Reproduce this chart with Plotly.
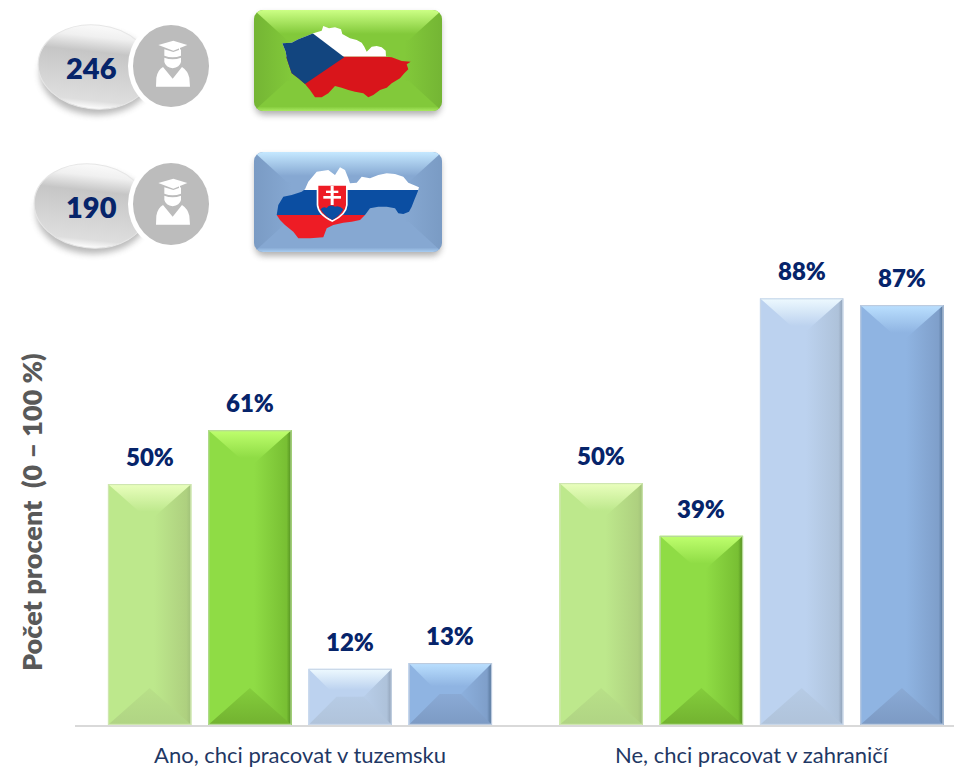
import base64
import plotly.graph_objects as go

# ---------- data ----------
categories = ["Ano, chci pracovat v tuzemsku", "Ne, chci pracovat v zahraničí"]
series_names = ["ČR 1", "ČR 2", "SR 1", "SR 2"]
czech_light = [49.7, 49.9]
czech_dark = [60.8, 39.0]
slovak_light = [11.6, 88.0]
slovak_dark = [12.8, 86.6]
sample_counts = ["246", "190"]
axis_title = "Počet procent  (0 – 100 %)"

# ---------- layout constants ----------
W, H = 954, 768
PLOT_L, PLOT_R, PLOT_B, PLOT_T = 75, 954, 725, 240
X_LEFT, X_RIGHT = -0.4983, 1.4485
BARGAP, GROUPGAP = 0.112, 0.167
NAVY = "#06246a"
FONT = "Lato"

PALETTE = [
    dict(base="#bde88c", right="#aed07f", edge="#9fc078", top0="#eaffbe", top1="#bde88c", bot0="#b8e088", bot1="#b0d484", line="#cfe6b0"),
    dict(base="#8fdc45", right="#78bf33", edge="#4f8a1e", top0="#bfff6e", top1="#8fdc45", bot0="#84cd3c", bot1="#72b230", line="#b7d99a"),
    dict(base="#bcd2ef", right="#aec2da", edge="#8c9db3", top0="#eefaff", top1="#bcd2ef", bot0="#b6cbe5", bot1="#b0c3da", line="#c9d7e8"),
    dict(base="#8fb4e2", right="#7f9fca", edge="#4f6e92", top0="#bbe0ff", top1="#8fb4e2", bot0="#8aaad5", bot1="#7c9ac4", line="#bccbdf"),
]
series = [czech_light, czech_dark, slovak_light, slovak_dark]


def uri(svg):
    return "data:image/svg+xml;base64," + base64.b64encode(svg.encode()).decode()


def bevel_svg(w, h, c):
    d = min(37.0, h / 2)
    i = w / 2 if d >= 37.0 else d
    return f'''<svg xmlns="http://www.w3.org/2000/svg" width="{w}" height="{h}" viewBox="0 0 {w} {h}" preserveAspectRatio="none">
<defs>
<linearGradient id="s" x1="0" x2="1" y1="0" y2="0">
<stop offset="0" stop-color="{c['base']}"/><stop offset=".55" stop-color="{c['base']}"/>
<stop offset=".94" stop-color="{c['right']}"/><stop offset="1" stop-color="{c['edge']}"/></linearGradient>
<linearGradient id="t" x1="0" x2="0" y1="0" y2="1">
<stop offset="0" stop-color="{c['top0']}"/><stop offset=".75" stop-color="{c['top1']}"/></linearGradient>
<linearGradient id="b" x1="0" x2="0" y1="0" y2="1">
<stop offset="0" stop-color="{c['bot0']}"/><stop offset="1" stop-color="{c['bot1']}"/></linearGradient>
</defs>
<rect width="{w}" height="{h}" fill="url(#s)"/>
<polygon points="0,0 {w},0 {w-i},{d} {i},{d}" fill="url(#t)"/>
<polygon points="0,{h} {w},{h} {w-i},{h-d} {i},{h-d}" fill="url(#b)"/>
<rect x=".6" y=".6" width="{w-1.2}" height="{h-1.2}" fill="none" stroke="{c['line']}" stroke-width="1.2"/>
</svg>'''


def poly(points, ox, oy):
    return " ".join(f"{ox + x / 3:.1f},{oy + y / 3:.1f}" for x, y in points)


CZ_OUTLINE = [(205,48),(222,55),(240,52),(258,58),(262,72),(285,85),(305,90),(320,98),(328,110),(335,125),(350,110),(365,108),(380,112),(392,122),(393,140),(410,142),(440,153),(467,155),(455,163),(460,178),(448,190),(435,205),(410,220),(395,233),(375,240),(355,255),(340,262),(325,250),(300,245),(280,240),(260,233),(240,228),(220,250),(200,262),(180,262),(165,240),(150,222),(130,205),(110,190),(100,160),(95,145),(92,125),(82,100),(110,98),(130,88),(155,78),(175,70),(200,62)]
SK_OUTLINE = [(65,195),(70,165),(85,140),(110,135),(140,125),(150,118),(160,95),(185,65),(220,60),(240,75),(255,52),(270,60),(280,85),(285,100),(305,98),(320,80),(345,85),(370,75),(395,70),(420,72),(445,80),(460,98),(492,112),(488,125),(478,150),(470,170),(462,185),(445,192),(430,190),(420,175),(395,170),(370,170),(345,175),(330,195),(315,210),(290,215),(265,218),(235,225),(215,235),(205,262),(165,265),(130,265),(115,245),(90,225),(75,210)]


def button(x, y, w, h, base, side, top, bot, gid):
    return f'''
<linearGradient id="{gid}t" x1="0" x2="0" y1="0" y2="1"><stop offset="0" stop-color="{top}"/><stop offset=".8" stop-color="{base}"/></linearGradient>
<linearGradient id="{gid}b" x1="0" x2="0" y1="0" y2="1"><stop offset="0" stop-color="{base}"/><stop offset=".85" stop-color="{base}"/><stop offset="1" stop-color="{bot}"/></linearGradient>
<linearGradient id="{gid}s" x1="0" x2="1" y1="0" y2="0"><stop offset="0" stop-color="{side}"/><stop offset=".2" stop-color="{base}"/><stop offset=".8" stop-color="{base}"/><stop offset="1" stop-color="{side}"/></linearGradient>
<clipPath id="{gid}c"><rect x="{x}" y="{y}" width="{w}" height="{h}" rx="9"/></clipPath>
<rect x="{x+1}" y="{y+4}" width="{w-2}" height="{h}" rx="9" fill="#555" opacity=".45" filter="url(#blur)"/>
<g clip-path="url(#{gid}c)">
<rect x="{x}" y="{y}" width="{w}" height="{h}" fill="url(#{gid}s)"/>
<polygon points="{x},{y} {x+w},{y} {x+w-33},{y+30} {x+33},{y+30}" fill="url(#{gid}t)"/>
<polygon points="{x},{y+h} {x+w},{y+h} {x+w-33},{y+h-30} {x+33},{y+h-30}" fill="url(#{gid}b)"/>
</g>'''


def person(cx, cy):
    return f'''<g transform="translate({cx},{cy}) scale(.3333)" fill="#fff">
<polygon points="-38,-63 7,-76 49,-63 7,-46"/>
<path d="M-20,-50 L7,-42 L30,-50 L30,-31 Q5,-22 -20,-31 Z"/>
<path d="M-20,-25 Q5,-16 30,-25 L30,-12 Q26,4 5,7 Q-16,4 -20,-12 Z"/>
<rect x="24" y="-58" width="3" height="24"/>
<path d="M-45,62 L-44,35 Q-40,12 -24,3 L5,38 L33,3 Q50,14 55,35 L57,62 Z"/>
</g>'''


def pill(cx, cy, rx, ry, ccy, gid):
    return f'''
<ellipse cx="{cx+2}" cy="{cy+6}" rx="{rx}" ry="{ry}" fill="#666" opacity=".45" filter="url(#blur)"/>
<ellipse cx="{cx}" cy="{cy}" rx="{rx}" ry="{ry}" fill="url(#pill)" stroke="#e6e6e6" stroke-width="1" transform="rotate(6 {cx} {cy})"/>
<ellipse cx="171" cy="{ccy}" rx="43" ry="46" fill="#fff"/>
<ellipse cx="171" cy="{ccy}" rx="38" ry="41" fill="#bcbcbc"/>
{person(171, ccy)}'''


def shield(ox, oy):
    return f'''<g transform="translate({ox},{oy}) scale(.3333)">
<path d="M185,103 L278,103 L278,165 Q276,195 232,216 Q187,195 185,165 Z" fill="#fff"/>
<path d="M190,107 L273,107 L273,165 Q271,192 232,210 Q192,192 190,165 Z" fill="#ee1c25"/>
<path d="M197,178 Q205,168 215,174 Q224,162 240,170 Q252,165 265,178 Q255,198 232,210 Q208,198 197,178 Z" fill="#0b4ea2"/>
<g fill="#fff"><rect x="227" y="108" width="9" height="57"/><rect x="213" y="122" width="37" height="7"/><rect x="205" y="138" width="53" height="8"/></g>
</g>'''


cz = (255, 10)
sk = (255, 150)
page = f'''<svg xmlns="http://www.w3.org/2000/svg" width="{W}" height="{H}" viewBox="0 0 {W} {H}">
<defs>
<filter id="blur" x="-20%" y="-20%" width="140%" height="140%"><feGaussianBlur stdDeviation="3"/></filter>
<linearGradient id="pill" x1="0" x2="0" y1="0" y2="1"><stop offset="0" stop-color="#fafafa"/><stop offset=".14" stop-color="#f0f0f0"/><stop offset=".32" stop-color="#c6c6c6"/><stop offset=".65" stop-color="#d4d4d4"/><stop offset=".9" stop-color="#dedede"/><stop offset="1" stop-color="#ffffff"/></linearGradient>
<clipPath id="czc"><polygon points="{poly(CZ_OUTLINE, *cz)}"/></clipPath>
<clipPath id="skc"><polygon points="{poly(SK_OUTLINE, *sk)}"/></clipPath>
</defs>
{pill(95, 67, 57, 42, 66, "a")}
{pill(91, 206, 57, 42, 204, "b")}
{button(254, 10, 188, 101, "#82c93a", "#74b534", "#ccff85", "#a8e860", "g")}
{button(254, 152, 188, 100, "#86a8d2", "#7a9bc4", "#c5e8ff", "#a8ccf0", "h")}
<g clip-path="url(#czc)">
<rect x="250" y="0" width="200" height="{10+140/3:.1f}" fill="#fff"/>
<rect x="250" y="{10+140/3:.1f}" width="200" height="70" fill="#d9151b"/>
<polygon points="{poly([(60,-16),(268,142),(60,283)], *cz)}" fill="#12457f"/>
</g>
<g clip-path="url(#skc)">
<rect x="250" y="150" width="200" height="{120/3:.1f}" fill="#fff"/>
<rect x="250" y="{150+120/3:.1f}" width="200" height="25" fill="#0b4ea2"/>
<rect x="250" y="{150+195/3:.1f}" width="200" height="40" fill="#ee1c25"/>
</g>
{shield(*sk)}
</svg>'''

# ---------- chart ----------
fig = go.Figure()
pitch = (1 - BARGAP) / 4
bar_w = pitch * (1 - GROUPGAP)
x_px = (PLOT_R - PLOT_L) / (X_RIGHT - X_LEFT)
y_px = (PLOT_B - PLOT_T) / 100

images = [dict(source=uri(page), xref="paper", yref="paper", x=0, y=1, sizex=1, sizey=1,
               xanchor="left", yanchor="top", sizing="stretch", layer="above")]
annotations = []

for i, (name, vals, c) in enumerate(zip(series_names, series, PALETTE)):
    fig.add_trace(go.Bar(name=name, x=[0, 1], y=vals, marker=dict(color=c["base"], line=dict(width=0)),
                         showlegend=False, hoverinfo="y", cliponaxis=False))
    for j, v in enumerate(vals):
        xc = j + (i - 1.5) * pitch
        images.append(dict(source=uri(bevel_svg(round(bar_w * x_px, 1), round(v * y_px, 1), c)),
                           xref="x", yref="y", x=xc - bar_w / 2, y=v, sizex=bar_w, sizey=v,
                           xanchor="left", yanchor="top", sizing="stretch", layer="above"))
        annotations.append(dict(x=xc, y=v, xref="x", yref="y", text=f"{round(v)}%", showarrow=False,
                                yanchor="bottom", yshift=11,
                                font=dict(family=FONT, size=24, color=NAVY, weight=800)))

for count, (px, py) in zip(sample_counts, [(91, 68), (91, 206)]):
    annotations.append(dict(x=px / W, y=1 - py / H, xref="paper", yref="paper", text=count, showarrow=False,
                            xanchor="center", yanchor="middle",
                            font=dict(family=FONT, size=29, color=NAVY, weight=800)))

annotations.append(dict(x=31 / W, y=1 - 512 / H, xref="paper", yref="paper", text=axis_title, textangle=-90,
                        showarrow=False, xanchor="center", yanchor="middle",
                        font=dict(family=FONT, size=27, color="#595959", weight=800)))

fig.update_layout(
    width=W, height=H, autosize=False, barmode="group", bargap=BARGAP, bargroupgap=GROUPGAP,
    margin=dict(l=0, r=0, t=0, b=0), paper_bgcolor="#fff", plot_bgcolor="#fff",
    images=images, annotations=annotations,
    xaxis=dict(domain=[PLOT_L / W, PLOT_R / W], range=[X_LEFT, X_RIGHT], tickvals=[0, 1], ticktext=categories,
               showgrid=False, zeroline=False, showline=True, linecolor="#d9d9d9", linewidth=2, ticks="",
               tickfont=dict(family=FONT, size=22, color="#1f3864"), ticklabelstandoff=10),
    yaxis=dict(domain=[1 - PLOT_B / H, 1 - PLOT_T / H], range=[0, 100], visible=False),
)
fig.write_html("out.html", config=dict(displayModeBar=False),
               post_script="document.body.style.margin='0';document.documentElement.style.overflow='hidden';")
